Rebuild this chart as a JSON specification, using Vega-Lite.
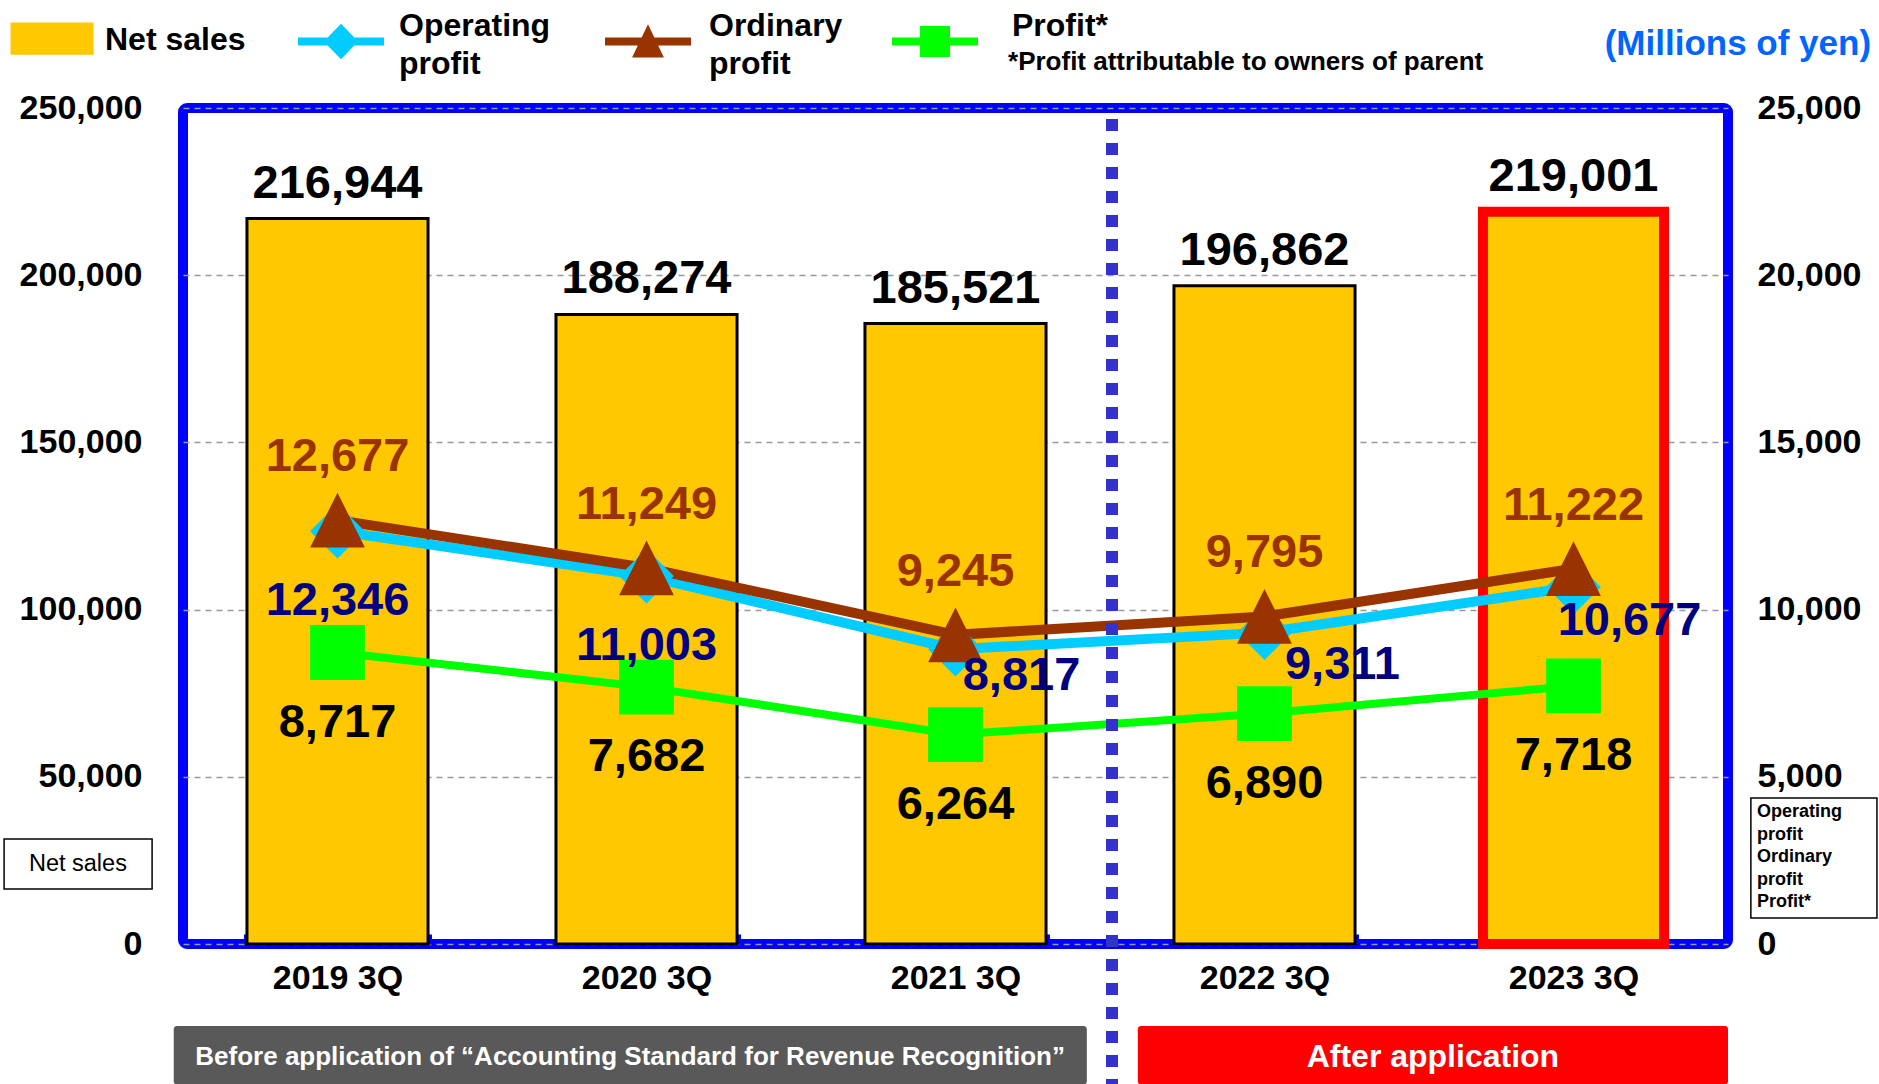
{
  "$schema": "https://vega.github.io/schema/vega-lite/v6.json",
  "width": 1545,
  "height": 836,
  "autosize": {"type": "none"},
  "padding": {"left": 183, "top": 108, "right": 151, "bottom": 140},
  "background": "#FFFFFF",
  "config": {
    "view": {"stroke": "#0000FF", "strokeWidth": 10, "cornerRadius": 4, "fill": "#FFFFFF"},
    "font": "Liberation Sans",
    "axis": {"labelFont": "Liberation Sans", "labelFontWeight": "bold", "labelColor": "#000000", "titleFont": "Liberation Sans"},
    "text": {"font": "Liberation Sans", "fontWeight": "bold"}
  },
  "datasets": {
    "sales": [
      {"quarter": "2019 3Q", "net_sales": 216944},
      {"quarter": "2020 3Q", "net_sales": 188274},
      {"quarter": "2021 3Q", "net_sales": 185521},
      {"quarter": "2022 3Q", "net_sales": 196862},
      {"quarter": "2023 3Q", "net_sales": 219001}
    ],
    "profits": [
      {"quarter": "2019 3Q", "series": "Operating profit", "value": 12346},
      {"quarter": "2020 3Q", "series": "Operating profit", "value": 11003},
      {"quarter": "2021 3Q", "series": "Operating profit", "value": 8817},
      {"quarter": "2022 3Q", "series": "Operating profit", "value": 9311},
      {"quarter": "2023 3Q", "series": "Operating profit", "value": 10677},
      {"quarter": "2019 3Q", "series": "Ordinary profit", "value": 12677},
      {"quarter": "2020 3Q", "series": "Ordinary profit", "value": 11249},
      {"quarter": "2021 3Q", "series": "Ordinary profit", "value": 9245},
      {"quarter": "2022 3Q", "series": "Ordinary profit", "value": 9795},
      {"quarter": "2023 3Q", "series": "Ordinary profit", "value": 11222},
      {"quarter": "2019 3Q", "series": "Profit*", "value": 8717},
      {"quarter": "2020 3Q", "series": "Profit*", "value": 7682},
      {"quarter": "2021 3Q", "series": "Profit*", "value": 6264},
      {"quarter": "2022 3Q", "series": "Profit*", "value": 6890},
      {"quarter": "2023 3Q", "series": "Profit*", "value": 7718}
    ]
  },
  "layer": [
    {
      "data": {"name": "sales"},
      "layer": [
        {
          "mark": {"type": "bar"},
          "encoding": {
            "x": {
              "field": "quarter", "type": "nominal", "sort": null,
              "scale": {"paddingInner": 0.414, "paddingOuter": 0.207},
              "axis": {"title": null, "labelFontSize": 34, "labelPadding": 27, "labelAngle": 0, "domain": false, "ticks": true, "tickBand": "extent", "tickSize": -10, "tickWidth": 7, "tickColor": "#0000FF", "grid": false}
            },
            "y": {
              "field": "net_sales", "type": "quantitative",
              "scale": {"domain": [0, 250000], "nice": false},
              "axis": {"orient": "left", "title": null, "labelFontSize": 34, "labelPadding": 41, "ticks": false, "tickSize": 0, "domain": false, "grid": true, "gridDash": [6, 5], "gridColor": "#999999", "gridWidth": 1.5, "values": [0, 50000, 100000, 150000, 200000, 250000], "labelExpr": "format(datum.value, ',')"}
            },
            "color": {"datum": "Net sales"},
            "stroke": {"condition": {"test": "datum.quarter === '2023 3Q'", "value": "#FF0000"}, "value": "#000000"},
            "strokeWidth": {"condition": {"test": "datum.quarter === '2023 3Q'", "value": 10}, "value": 3}
          }
        },
        {
          "mark": {"type": "text", "fontSize": 47, "baseline": "alphabetic", "align": "center", "dy": -21, "color": "#000000"},
          "encoding": {
            "x": {"field": "quarter", "type": "nominal", "sort": null},
            "y": {"field": "net_sales", "type": "quantitative"},
            "text": {"field": "net_sales", "type": "quantitative", "format": ","}
          }
        }
      ]
    },
    {
      "data": {"name": "profits"},
      "layer": [
        {
          "mark": {"type": "line"},
          "encoding": {
            "x": {"field": "quarter", "type": "nominal", "sort": null, "axis": null},
            "y": {
              "field": "value", "type": "quantitative",
              "scale": {"domain": [0, 25000], "nice": false},
              "axis": {"orient": "right", "title": null, "labelFontSize": 34, "labelPadding": 29, "ticks": false, "tickSize": 0, "domain": false, "grid": false, "values": [0, 5000, 10000, 15000, 20000, 25000], "labelExpr": "format(datum.value, ',')"}
            },
            "color": {
              "field": "series", "type": "nominal",
              "scale": {"domain": ["Net sales", "Operating profit", "Ordinary profit", "Profit*"], "range": ["#FFC800", "#00CCFF", "#993300", "#00FF00"]},
              "legend": {
                "title": null,
                "orient": "none",
                "legendX": -174,
                "legendY": -84,
                "direction": "horizontal",
                "columns": 4,
                "columnPadding": 48,
                "symbolSize": 7400,
                "symbolStrokeColor": "#000000",
                "symbolStrokeWidth": 3,
                "labelFontSize": 32,
                "labelFont": "Liberation Sans",
                "labelFontWeight": "bold",
                "labelColor": "#000000",
                "labelOffset": 14,
                "labelLimit": 400,
                "values": ["Net sales", "Operating profit", "Ordinary profit", "Profit*"],
                "labelExpr": "datum.label === 'Operating profit' ? ['Operating', 'profit'] : datum.label === 'Ordinary profit' ? ['Ordinary', 'profit'] : datum.label === 'Profit*' ? ['Profit*', ''] : ['Net sales', '']",
                "encode": {
                  "symbols": {
                    "update": {
                      "x": {"signal": "datum.value === 'Net sales' ? 43 : datum.value === 'Operating profit' ? 47 : datum.value === 'Ordinary profit' ? 49 : 43"},
                      "shape": {"signal": "datum.value === 'Net sales' ? 'M-0.93,-0.37H0.93V0.31H-0.93Z' : datum.value === 'Operating profit' ? 'M-1,-0.093H1V0.093H-1Z M0,-0.41L0.4,0L0,0.41L-0.4,0Z' : datum.value === 'Ordinary profit' ? 'M-1,-0.093H1V0.093H-1Z M0,-0.4L0.37,0.37L-0.37,0.37Z' : 'M-1,-0.093H1V0.093H-1Z M-0.35,-0.36H0.35V0.36H-0.35Z'"},
                      "fill": {"signal": "datum.value === 'Net sales' ? '#FFC800' : datum.value === 'Operating profit' ? '#33CCFF' : datum.value === 'Ordinary profit' ? '#993300' : '#66FF66'"},
                      "stroke": {"signal": "datum.value === 'Net sales' ? '#000000' : 'transparent'"},
                      "strokeWidth": {"signal": "datum.value === 'Net sales' ? 3 : 0"},
                      "strokeOpacity": {"value": 1},
                      "opacity": {"value": 1},
                      "fillOpacity": {"value": 1},
                      "size": {"value": 7400}
                    }
                  },
                  "labels": {
                    "update": {
                      "x": {"signal": "datum.value === 'Net sales' ? 96 : datum.value === 'Operating profit' ? 105 : datum.value === 'Ordinary profit' ? 110 : 120"},
                      "dy": {"signal": "datum.value === 'Net sales' ? 0 : -16"},
                      "lineHeight": {"signal": "datum.value === 'Net sales' ? 25 : 38"}
                    }
                  }
                }
              }
            },
            "strokeWidth": {"condition": {"test": "datum.series === 'Profit*'", "value": 8}, "value": 10}
          }
        },
        {
          "mark": {"type": "point", "filled": true, "opacity": 1, "size": 3000, "strokeWidth": 0},
          "encoding": {
            "x": {"field": "quarter", "type": "nominal", "sort": null, "axis": null},
            "y": {"field": "value", "type": "quantitative"},
            "color": {"field": "series", "type": "nominal"},
            "shape": {
              "field": "series", "type": "nominal",
              "scale": {"domain": ["Operating profit", "Ordinary profit", "Profit*"], "range": ["diamond", "M0,-1L1,1L-1,1Z", "square"]},
              "legend": null
            }
          }
        },
        {
          "transform": [{"filter": "datum.series === 'Ordinary profit'"}],
          "mark": {"type": "text", "fontSize": 47, "baseline": "alphabetic", "align": "center", "dy": -49, "color": "#993300"},
          "encoding": {
            "x": {"field": "quarter", "type": "nominal", "sort": null, "axis": null},
            "y": {"field": "value", "type": "quantitative"},
            "text": {"field": "value", "type": "quantitative", "format": ","}
          }
        },
        {
          "transform": [{"filter": "datum.series === 'Profit*'"}],
          "mark": {"type": "text", "fontSize": 47, "baseline": "alphabetic", "align": "center", "dy": 84, "color": "#000000"},
          "encoding": {
            "x": {"field": "quarter", "type": "nominal", "sort": null, "axis": null},
            "y": {"field": "value", "type": "quantitative"},
            "text": {"field": "value", "type": "quantitative", "format": ","}
          }
        },
        {
          "transform": [{"filter": "datum.series === 'Operating profit' && (datum.quarter === '2019 3Q' || datum.quarter === '2020 3Q')"}],
          "mark": {"type": "text", "fontSize": 47, "baseline": "alphabetic", "align": "center", "dy": 84, "color": "#000080"},
          "encoding": {
            "x": {"field": "quarter", "type": "nominal", "sort": null, "axis": null},
            "y": {"field": "value", "type": "quantitative"},
            "text": {"field": "value", "type": "quantitative", "format": ","}
          }
        },
        {
          "transform": [{"filter": "datum.series === 'Operating profit' && datum.quarter === '2021 3Q'"}],
          "mark": {"type": "text", "fontSize": 47, "baseline": "alphabetic", "align": "center", "dx": 66, "dy": 41, "color": "#000080"},
          "encoding": {
            "x": {"field": "quarter", "type": "nominal", "sort": null, "axis": null},
            "y": {"field": "value", "type": "quantitative"},
            "text": {"field": "value", "type": "quantitative", "format": ","}
          }
        },
        {
          "transform": [{"filter": "datum.series === 'Operating profit' && datum.quarter === '2022 3Q'"}],
          "mark": {"type": "text", "fontSize": 47, "baseline": "alphabetic", "align": "center", "dx": 78, "dy": 46, "color": "#000080"},
          "encoding": {
            "x": {"field": "quarter", "type": "nominal", "sort": null, "axis": null},
            "y": {"field": "value", "type": "quantitative"},
            "text": {"field": "value", "type": "quantitative", "format": ","}
          }
        },
        {
          "transform": [{"filter": "datum.series === 'Operating profit' && datum.quarter === '2023 3Q'"}],
          "mark": {"type": "text", "fontSize": 47, "baseline": "alphabetic", "align": "center", "dx": 56, "dy": 48, "color": "#000080"},
          "encoding": {
            "x": {"field": "quarter", "type": "nominal", "sort": null, "axis": null},
            "y": {"field": "value", "type": "quantitative"},
            "text": {"field": "value", "type": "quantitative", "format": ","}
          }
        }
      ]
    },
    {
      "data": {"values": [{}]},
      "layer": [
        {
          "mark": {"type": "rect", "fill": "#595959", "cornerRadius": 3},
          "encoding": {
            "x": {"datum": -0.03, "type": "quantitative", "scale": {"domain": [0, 5], "nice": false, "zero": false}, "axis": null},
            "x2": {"datum": 2.925},
            "y": {"datum": -24500, "type": "quantitative", "scale": {"domain": [0, 250000], "nice": false}, "axis": null},
            "y2": {"datum": -42000}
          }
        },
        {
          "mark": {"type": "rect", "fill": "#FF0000", "cornerRadius": 3},
          "encoding": {
            "x": {"datum": 3.09, "type": "quantitative"},
            "x2": {"datum": 5.0},
            "y": {"datum": -24500, "type": "quantitative"},
            "y2": {"datum": -42000}
          }
        },
        {
          "mark": {"type": "text", "fontSize": 26, "align": "center", "baseline": "middle", "color": "#FFFFFF"},
          "encoding": {
            "x": {"datum": 1.447, "type": "quantitative"},
            "y": {"datum": -33800, "type": "quantitative"},
            "text": {"value": "Before application of “Accounting Standard for Revenue Recognition”"}
          }
        },
        {
          "mark": {"type": "text", "fontSize": 32, "align": "center", "baseline": "middle", "color": "#FFFFFF"},
          "encoding": {
            "x": {"datum": 4.045, "type": "quantitative"},
            "y": {"datum": -33800, "type": "quantitative"},
            "text": {"value": "After application"}
          }
        },
        {
          "mark": {"type": "rule", "color": "#3333CC", "strokeWidth": 12, "strokeDash": [12, 12], "strokeDashOffset": 13, "strokeCap": "butt"},
          "encoding": {
            "x": {"datum": 3.0065, "type": "quantitative"},
            "y": {"datum": 250000, "type": "quantitative"},
            "y2": {"datum": -42000}
          }
        },
        {
          "mark": {"type": "rect", "fill": "#FFFFFF", "stroke": "#000000", "strokeWidth": 1.5},
          "encoding": {
            "x": {"datum": -0.579, "type": "quantitative"},
            "x2": {"datum": -0.1},
            "y": {"datum": 31400, "type": "quantitative"},
            "y2": {"datum": 16450}
          }
        },
        {
          "mark": {"type": "text", "fontSize": 23.5, "fontWeight": "normal", "align": "center", "baseline": "middle", "color": "#000000"},
          "encoding": {
            "x": {"datum": -0.34, "type": "quantitative"},
            "y": {"datum": 23923, "type": "quantitative"},
            "text": {"value": "Net sales"}
          }
        },
        {
          "mark": {"type": "rect", "fill": "#FFFFFF", "stroke": "#000000", "strokeWidth": 1.5},
          "encoding": {
            "x": {"datum": 5.074, "type": "quantitative"},
            "x2": {"datum": 5.482},
            "y": {"datum": 43660, "type": "quantitative"},
            "y2": {"datum": 7775}
          }
        },
        {
          "mark": {"type": "text", "fontSize": 18, "lineHeight": 22.6, "align": "left", "baseline": "middle", "color": "#000000"},
          "encoding": {
            "x": {"datum": 5.094, "type": "quantitative"},
            "y": {"datum": 39473, "type": "quantitative"},
            "text": {"value": ["Operating", "profit", "Ordinary", "profit", "Profit*"]}
          }
        },
        {
          "mark": {"type": "text", "fontSize": 26, "align": "left", "baseline": "middle", "color": "#000000"},
          "encoding": {
            "x": {"datum": 2.67, "type": "quantitative"},
            "y": {"datum": 263753, "type": "quantitative"},
            "text": {"value": "*Profit attributable to owners of parent"}
          }
        },
        {
          "mark": {"type": "text", "fontSize": 35, "align": "right", "baseline": "middle", "color": "#0066FF"},
          "encoding": {
            "x": {"datum": 5.463, "type": "quantitative"},
            "y": {"datum": 269136, "type": "quantitative"},
            "text": {"value": "(Millions of yen)"}
          }
        }
      ]
    }
  ],
  "resolve": {"scale": {"x": "independent", "y": "independent"}}
}
